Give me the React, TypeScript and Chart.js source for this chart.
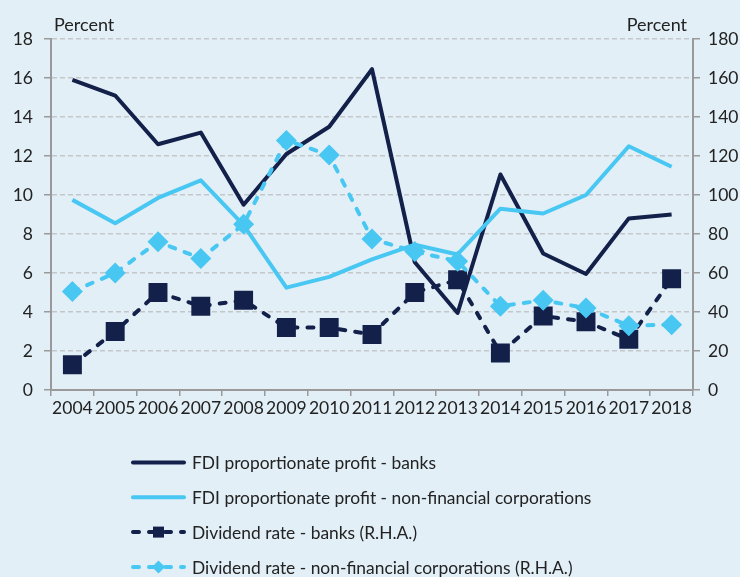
import React, { useEffect, useRef } from 'react';
import { Chart, registerables } from 'chart.js';

Chart.register(...registerables);

const years = ['2004', '2005', '2006', '2007', '2008', '2009', '2010', '2011', '2012', '2013', '2014', '2015', '2016', '2017', '2018'];
const fdiBanks = [15.9, 15.1, 12.6, 13.2, 9.5, 12.1, 13.5, 16.45, 6.55, 3.95, 11.05, 7.0, 5.95, 8.8, 9.0];
const fdiNfc = [9.75, 8.55, 9.85, 10.75, 8.45, 5.25, 5.8, 6.7, 7.45, 6.95, 9.3, 9.05, 10.0, 12.5, 11.45];
const divBanks = [13, 30, 50, 43, 46, 32, 32, 28.5, 50, 56.5, 19, 38, 35, 26, 57];
const divNfc = [50.5, 60, 76, 67.5, 85, 128, 120.5, 77.4, 71, 66, 43, 46, 42, 33, 33.5];
const seriesLabels = [
  'FDI proportionate profit - banks',
  'FDI proportionate profit - non-financial corporations',
  'Dividend rate - banks (R.H.A.)',
  'Dividend rate - non-financial corporations (R.H.A.)',
];
const axisTitle = 'Percent';

const NAVY = '#13204a';
const CYAN = '#48c7f2';
const BG = '#e2eff7';
const AXIS = '#9a9a9a';
const GRID = '#c4c7ca';
const TEXT = '#222222';
const FONT = 'Lato, "Open Sans", sans-serif';
const DASH = [6, 10];

const extrasPlugin = {
  id: 'extras',
  beforeDraw(chart: any) {
    const { ctx, width, height } = chart;
    ctx.save();
    ctx.fillStyle = BG;
    ctx.fillRect(0, 0, width, height);
    ctx.restore();
  },
  afterDraw(chart: any) {
    const { ctx, chartArea } = chart;
    ctx.save();
    ctx.font = `18px ${FONT}`;
    ctx.fillStyle = TEXT;
    ctx.textBaseline = 'alphabetic';
    ctx.textAlign = 'left';
    ctx.fillText(axisTitle, chartArea.left + 3, chartArea.top - 8);
    ctx.textAlign = 'right';
    ctx.fillText(axisTitle, chartArea.right - 6, chartArea.top - 8);

    // legend
    const x1 = 133;
    const x2 = 184;
    const xm = (x1 + x2) / 2;
    ctx.textAlign = 'left';
    ctx.textBaseline = 'middle';
    chart.data.datasets.forEach((ds: any, i: number) => {
      const y = chartArea.bottom + 72.5 + i * 34.8;
      ctx.save();
      ctx.strokeStyle = ds.borderColor;
      ctx.lineWidth = 4;
      ctx.lineCap = 'round';
      ctx.setLineDash(ds.borderDash || []);
      ctx.beginPath();
      ctx.moveTo(x1, y);
      ctx.lineTo(x2, y);
      ctx.stroke();
      ctx.setLineDash([]);
      ctx.fillStyle = ds.borderColor;
      if (ds.pointStyle === 'rect') {
        ctx.fillRect(xm - 5.5, y - 5.5, 11, 11);
      } else if (ds.pointStyle === 'rectRot') {
        ctx.beginPath();
        ctx.moveTo(xm, y - 6.5);
        ctx.lineTo(xm + 6.5, y);
        ctx.lineTo(xm, y + 6.5);
        ctx.lineTo(xm - 6.5, y);
        ctx.closePath();
        ctx.fill();
      }
      ctx.restore();
      ctx.fillStyle = TEXT;
      ctx.font = `17.4px ${FONT}`;
      ctx.fillText(ds.label, 192, y + 1);
    });
    ctx.restore();
  },
};

export default function App() {
  const canvasRef = useRef<HTMLCanvasElement | null>(null);

  useEffect(() => {
    document.body.style.margin = '0';
    document.body.style.background = BG;
    const canvas = canvasRef.current;
    if (!canvas) return;
    const chart = new Chart(canvas, {
      type: 'line',
      data: {
        labels: years,
        datasets: [
          {
            label: seriesLabels[0],
            data: fdiBanks,
            borderColor: NAVY,
            backgroundColor: NAVY,
            borderWidth: 4,
            pointRadius: 0,
            yAxisID: 'y',
            order: 4,
            borderJoinStyle: 'round',
          },
          {
            label: seriesLabels[1],
            data: fdiNfc,
            borderColor: CYAN,
            backgroundColor: CYAN,
            borderWidth: 4,
            pointRadius: 0,
            yAxisID: 'y',
            order: 3,
            borderJoinStyle: 'round',
          },
          {
            label: seriesLabels[2],
            data: divBanks,
            borderColor: NAVY,
            backgroundColor: NAVY,
            borderWidth: 4,
            borderDash: DASH,
            borderCapStyle: 'round',
            pointStyle: 'rect',
            pointRadius: 13.4,
            pointBorderWidth: 0,
            pointBackgroundColor: NAVY,
            yAxisID: 'y1',
            order: 2,
          },
          {
            label: seriesLabels[3],
            data: divNfc,
            borderColor: CYAN,
            backgroundColor: CYAN,
            borderWidth: 4,
            borderDash: DASH,
            borderCapStyle: 'round',
            pointStyle: 'rectRot',
            pointRadius: 10.5,
            pointBorderWidth: 0,
            pointBackgroundColor: CYAN,
            yAxisID: 'y1',
            order: 1,
          },
        ] as any,
      },
      options: {
        responsive: false,
        animation: false,
        devicePixelRatio: 1,
        layout: { padding: { top: 39, bottom: 152, left: 0, right: 0 } },
        plugins: {
          legend: { display: false },
          tooltip: { enabled: false },
          title: { display: false },
        },
        scales: {
          x: {
            type: 'category',
            offset: true,
            grid: {
              offset: true,
              drawOnChartArea: false,
              drawTicks: true,
              tickLength: 6,
              color: AXIS,
              lineWidth: 1.5,
            },
            border: { color: AXIS, width: 2 },
            ticks: {
              font: { family: FONT, size: 17.5 },
              color: TEXT,
              padding: 2,
              maxRotation: 0,
              autoSkip: false,
            },
            afterFit: (s: any) => {
              s.height = 35;
            },
          },
          y: {
            position: 'left',
            min: 0,
            max: 18,
            ticks: {
              stepSize: 2,
              font: { family: FONT, size: 17.5 },
              color: TEXT,
              padding: 11,
            },
            grid: {
              color: (c: any) => (c.tick && c.tick.value === 0 ? 'rgba(0,0,0,0)' : GRID),
              lineWidth: 1.5,
              tickLength: 7,
              tickColor: AXIS,
              tickWidth: 1.5,
              tickBorderDash: [],
            } as any,
            border: { color: AXIS, width: 2, dash: [5, 3] },
            afterFit: (s: any) => {
              s.width = 51;
            },
          },
          y1: {
            position: 'right',
            min: 0,
            max: 180,
            ticks: {
              stepSize: 20,
              font: { family: FONT, size: 17.5 },
              color: TEXT,
              padding: 8,
            },
            grid: {
              drawOnChartArea: false,
              tickLength: 7,
              color: AXIS,
              tickColor: AXIS,
              lineWidth: 1.5,
            },
            border: { color: AXIS, width: 2 },
            afterFit: (s: any) => {
              s.width = 47;
            },
          },
        },
      } as any,
      plugins: [extrasPlugin],
    });
    return () => chart.destroy();
  }, []);

  return (
    <div style={{ width: 740, height: 577, background: BG }}>
      <canvas ref={canvasRef} width={740} height={577} style={{ display: 'block', width: 740, height: 577 }} />
    </div>
  );
}
